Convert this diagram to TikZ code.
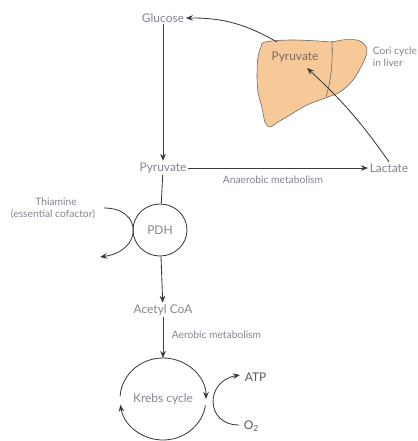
\documentclass[tikz,border=0pt]{standalone}
\usepackage{fontspec}
\setmainfont{Lato}
\usetikzlibrary{arrows.meta,shapes.geometric}

\definecolor{lbl}{HTML}{8A8290}
\definecolor{dlbl}{HTML}{5A5560}
\definecolor{ln}{HTML}{3C3C3C}
\definecolor{liverfill}{HTML}{F8C998}
\definecolor{liverlbl}{HTML}{7A6A62}

\tikzset{
  txt/.style={text=lbl, font=\fontsize{8.5}{10}\selectfont, inner sep=1pt},
  small/.style={text=lbl, font=\fontsize{7.3}{8.8}\selectfont, inner sep=1pt},
  enz/.style={ellipse, draw=ln, semithick, minimum width=1.35cm, minimum height=1.3cm,
    text=lbl, font=\fontsize{8.5}{10}\selectfont},
}

\begin{document}
\begin{tikzpicture}[x=0.025cm, y=0.025cm, >={Stealth[length=5pt,width=4pt]}, semithick, color=ln]
  \useasboundingbox (0,0) rectangle (417,441);

  % liver
  \draw[draw=ln!80, thin, fill=liverfill] plot[smooth cycle, tension=0.6] coordinates {
    (265,399) (290,401) (318,400) (332,399) (342,401) (357,401) (365,396)
    (367,389) (363,378) (353,361) (340,349) (328,344) (307,336) (290,326)
    (278,319) (270,314) (265,319) (262,333) (258,349) (257,366) (258,384) (261,394)};
  \draw[draw=ln!80, thin] (332,400) .. controls (333,380) and (331,360) .. (326,344);

  \node[txt]  (glc)  at (163,423) {Glucose};
  \node[txt]  (pyr)  at (163,273) {Pyruvate};
  \node[txt]  (lac)  at (389,273) {Lactate};
  \node[txt, text=liverlbl] (lpyr) at (295,384) {Pyruvate};
  \node[small, align=left, anchor=west] (cori) at (371,384) {Cori cycle\\in liver};
  \node[small] (anae) at (273,261) {Anaerobic metabolism};
  \node[enz]  (pdh)  at (160,211) {PDH};
  \node[small] (thi) at (56,239) {Thiamine};
  \node[small] (cof) at (53,227) {(essential cofactor)};
  \node[txt]  (acoa) at (163,131) {Acetyl CoA};
  \node[small, anchor=west] (aero) at (170,106) {Aerobic metabolism};
  \node[txt]  (krebs) at (163,42) {Krebs cycle};
  \node[txt, text=dlbl, anchor=west] (atp) at (243,64) {ATP};
  \node[txt, text=dlbl, anchor=west] (o2) at (242,15) {O\textsubscript{2}};

  \coordinate (lv)   at (277,399);
  \coordinate (lin)  at (307,373);
  \coordinate (ktop) at (163,83);
  \coordinate (tin)  at (104,233);
  \coordinate (tout) at (100,184);
  \coordinate (oin)  at (239,16);
  \coordinate (aout) at (240,66);

  \path[->] (glc) edge (pyr)
            (pyr) edge (lac)
            (lv)  edge [bend right=15] (glc.east)
            (lac.north) edge [bend right=6] (lin)
            (pdh) edge (acoa)
            (acoa) edge (ktop);
  \draw (pyr) -- (pdh);

  % Krebs cycle
  \draw[->] (krebs.center) ++(176:43 and 41) arc[start angle=176, end angle=0, x radius=43, y radius=41];
  \draw[->] (krebs.center) ++(-9:43 and 41) arc[start angle=-9, end angle=-172, x radius=43, y radius=41];

  % cofactor and O2 / ATP
  \draw[->] (tin) .. controls (143,233) and (143,190) .. (tout);
  \draw[->] (oin) .. controls (205,16) and (205,60) .. (aout);
\end{tikzpicture}
\end{document}
